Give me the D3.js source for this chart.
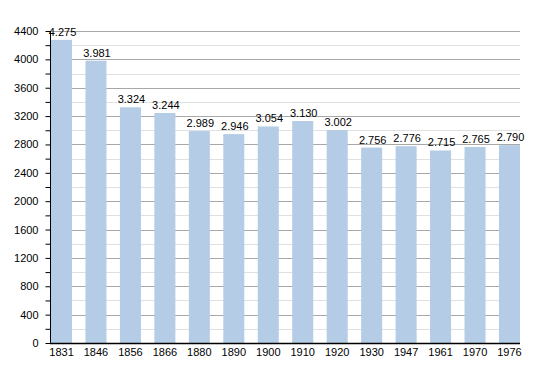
<!DOCTYPE html>
<html>
<head>
  <script src="https://d3js.org/d3.v7.min.js"></script>
  <style>
    body { margin: 0; background: #fff; }
    .chart text { font: 11px "Liberation Sans", Arial, sans-serif; fill: #000; }
  </style>
</head>
<body>
  <svg class="chart" width="550" height="373"></svg>
  <script>
    var years = ['1831', '1846', '1856', '1866', '1880', '1890', '1900', '1910', '1920', '1930', '1947', '1961', '1970', '1976'];
    var population = [4275, 3981, 3324, 3244, 2989, 2946, 3054, 3130, 3002, 2756, 2776, 2715, 2765, 2790];
    var yTicks = [0, 400, 800, 1200, 1600, 2000, 2400, 2800, 3200, 3600, 4000, 4400];

    var plotLeft = 50, plotRight = 520, plotTop = 31, plotBottom = 343;

    var x = d3.scaleBand()
      .domain(years)
      .range([plotLeft + 1, plotRight])
      .paddingInner(0.39)
      .paddingOuter(0)
      .align(0);
    var y = d3.scaleLinear()
      .domain([0, 4400])
      .range([plotBottom, plotTop]);

    var svg = d3.select('.chart');
    var minor = d3.range(0, 4401, 200);

    // gridlines: light every 200, darker every 400
    svg.append('g').selectAll('line')
      .data(minor)
      .enter()
      .append('line')
      .attr('x1', plotLeft)
      .attr('x2', plotRight)
      .attr('y1', function (d) { return Math.round(y(d)) + 0.5; })
      .attr('y2', function (d) { return Math.round(y(d)) + 0.5; })
      .attr('stroke', function (d) { return yTicks.indexOf(d) >= 0 ? '#a8a8a8' : '#e0e0e0'; })
      .attr('stroke-width', 1);

    svg.append('g').selectAll('rect')
      .data(population)
      .enter()
      .append('rect')
      .attr('x', function (d, i) { return x(years[i]); })
      .attr('y', function (d) { return y(d); })
      .attr('width', x.bandwidth())
      .attr('height', function (d) { return plotBottom - y(d); })
      .attr('fill', '#b4cce5');

    svg.append('g').selectAll('text')
      .data(population)
      .enter()
      .append('text')
      .attr('x', function (d, i) { return x(years[i]) + x.bandwidth() / 2 + 1; })
      .attr('y', function (d) { return y(d) - 4; })
      .attr('text-anchor', 'middle')
      .text(function (d) { return d3.format(',')(d).replace(',', '.'); });

    // y axis
    var yAxis = d3.axisLeft(y)
      .tickValues(minor)
      .tickSize(5)
      .tickFormat(function (d) { return yTicks.indexOf(d) >= 0 ? d : ''; });
    var ya = svg.append('g')
      .attr('transform', 'translate(' + (plotLeft + 0.5) + ',0)')
      .call(yAxis);
    ya.select('.domain').attr('stroke', '#000').attr('d', 'M0,' + plotTop + 'V' + plotBottom);
    ya.selectAll('line').attr('stroke', '#000');
    ya.selectAll('text').attr('x', -12).style('font-size', '11px');

    // x axis
    var xAxis = d3.axisBottom(x).tickSize(0).tickPadding(5);
    var xa = svg.append('g')
      .attr('transform', 'translate(0,' + (plotBottom + 0.5) + ')')
      .call(xAxis);
    xa.select('.domain').attr('stroke', '#000').attr('stroke-width', 1.5).attr('d', 'M' + plotLeft + ',0H' + plotRight);
    xa.selectAll('text').style('font-size', '11px');
  </script>
</body>
</html>
